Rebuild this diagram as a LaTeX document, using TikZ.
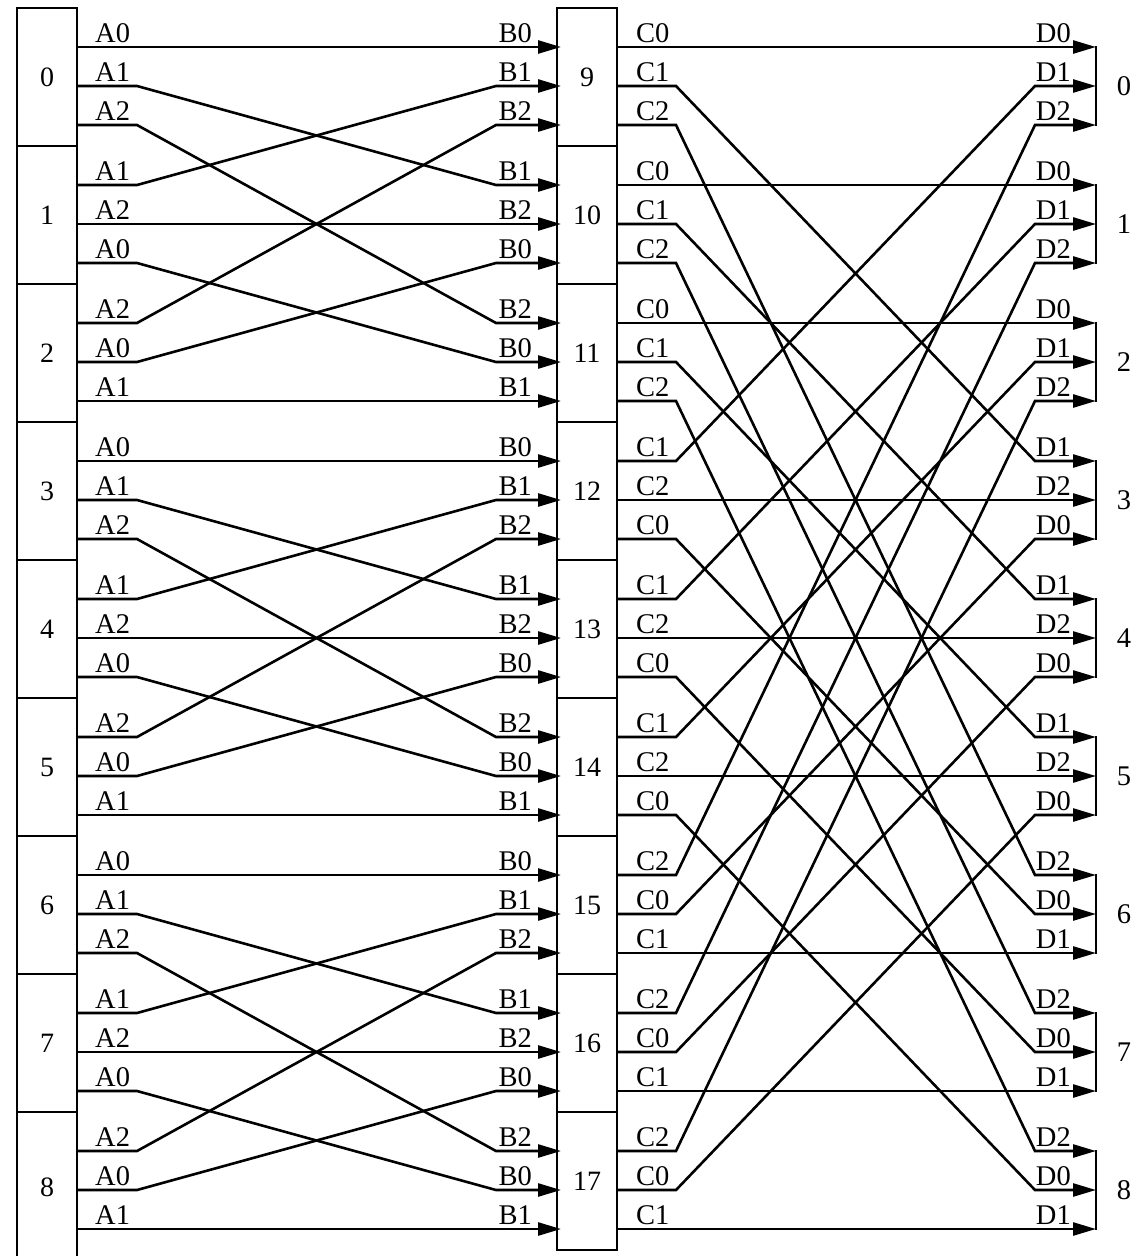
\documentclass[tikz,border=0pt]{standalone}
\usepackage{fontspec}
\setmainfont{Liberation Serif}
\usetikzlibrary{arrows.meta,calc}
\begin{document}
\begin{tikzpicture}[x=1pt,y=-1pt,
  box/.style={draw,line width=2.8pt,minimum width=60pt,inner sep=0pt,font=\fontsize{28}{32}\selectfont},
  wire/.style={line width=2.6pt},
  arr/.style={wire,-{Triangle[length=23pt,width=13pt]}},
  lbl/.style={inner sep=0pt,font=\fontsize{28.5}{32}\selectfont},
  brk/.style={line width=2.8pt,line cap=rect},
]
\useasboundingbox (0,0) rectangle (1142,1256);
\clip (0,0) rectangle (1142,1256);
% left boxes 0..8
\foreach \i in {0,...,7}{
  \node[box,minimum height=138pt] (L\i) at (47,{77+138*\i}) {\i};
}
\node[box,minimum height=150pt] (L8) at (47,1187) {8};
% middle boxes 9..17
\foreach \m in {0,...,8}{
  \pgfmathtruncatemacro\lab{\m+9}
  \node[box,minimum height=138pt] (M\m) at (587,{77+138*\m}) {\lab};
}
% ports
\foreach \k in {0,...,8}{
  \foreach \s in {0,1,2}{
    \coordinate (Lo-\k-\s) at (77,{47+138*\k+39*\s});
    \coordinate (Mi-\k-\s) at (561,{47+138*\k+39*\s});
    \coordinate (Mo-\k-\s) at (617,{47+138*\k+39*\s});
    \coordinate (Ri-\k-\s) at (1096,{47+138*\k+39*\s});
  }
}
% left -> middle
\foreach \g in {0,1,2}{
  \foreach \i in {0,1,2}{
    \foreach \j in {0,1,2}{
      \pgfmathtruncatemacro\L{3*\g+\i}
      \pgfmathtruncatemacro\M{3*\g+\j}
      \pgfmathtruncatemacro\n{mod(\i+\j,3)}
      \draw[arr] (Lo-\L-\j) -- ++(60,0) -- ($(Mi-\M-\i)+(-65,0)$) -- (Mi-\M-\i);
      \node[lbl,anchor=south west] (A-\L-\j) at ($(Lo-\L-\j)+(18,-4)$) {A\n};
      \node[lbl,anchor=south east] (B-\M-\i) at ($(Mi-\M-\i)+(-29,-4)$) {B\n};
    }
  }
}
% middle -> right
\foreach \a in {0,1,2}{
  \foreach \b in {0,1,2}{
    \foreach \s in {0,1,2}{
      \pgfmathtruncatemacro\m{3*\a+\b}
      \pgfmathtruncatemacro\r{3*\s+\b}
      \pgfmathtruncatemacro\n{mod(\s+\a,3)}
      \draw[arr] (Mo-\m-\s) -- ++(59,0) -- ($(Ri-\r-\a)+(-61,0)$) -- (Ri-\r-\a);
      \node[lbl,anchor=south west] (C-\m-\s) at ($(Mo-\m-\s)+(19,-4)$) {C\n};
      \node[lbl,anchor=south east] (D-\r-\a) at ($(Ri-\r-\a)+(-25,-4)$) {D\n};
    }
  }
}
% right brackets and labels
\foreach \r in {0,...,8}{
  \draw[brk] (Ri-\r-0) -- (Ri-\r-2);
  \node[lbl] (N\r) at ($(Ri-\r-1)+(28,0)$) {\r};
}
\end{tikzpicture}
\end{document}
